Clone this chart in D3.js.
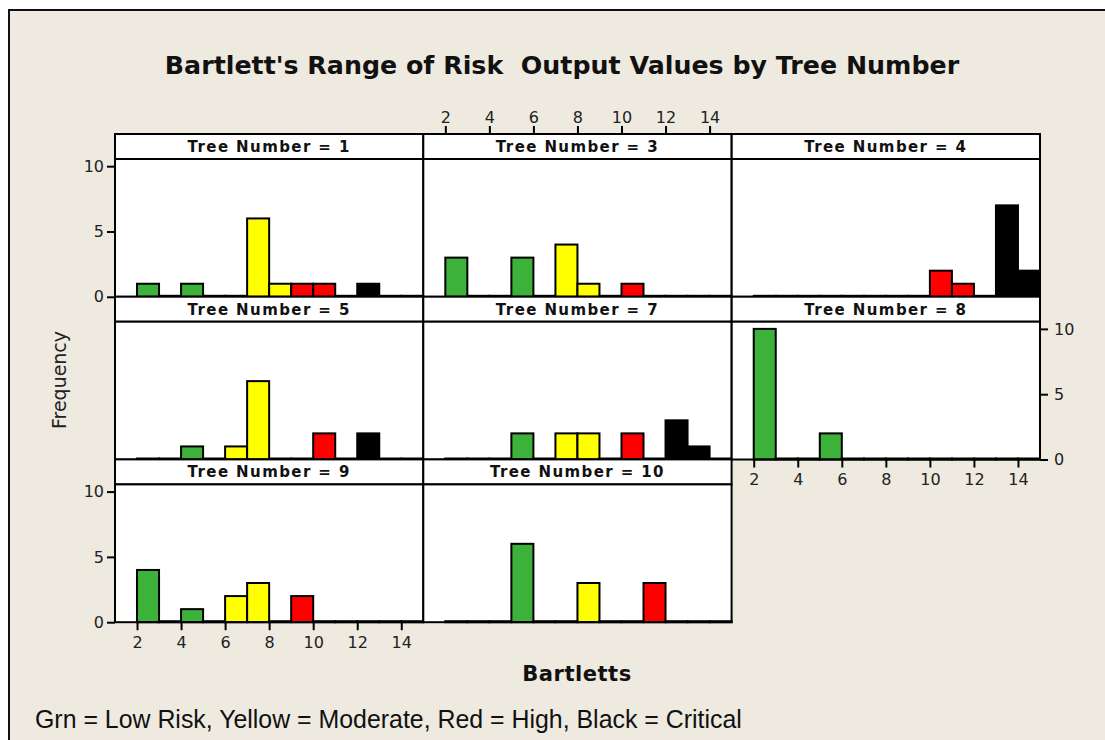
<!DOCTYPE html>
<html>
<head>
<meta charset="utf-8">
<script src="https://cdn.jsdelivr.net/npm/d3@7"></script>
<style>
  html, body { margin: 0; padding: 0; background: #fff; }
  svg { display: block; }
</style>
</head>
<body>
<svg id="chart" width="1105" height="740"></svg>
<script>
// ---------- DATA ----------
const treeNumbers = [1, 3, 4, 5, 7, 8, 9, 10];
const binStarts   = [2, 3, 4, 5, 6, 7, 8, 9, 10, 11, 12, 13, 14];
const tree1Counts  = [1, 0, 1, 0, 0, 6, 1, 1, 1, 0, 1, 0, 0];
const tree3Counts  = [3, 0, 0, 3, 0, 4, 1, 0, 1, 0, 0, 0, 0];
const tree4Counts  = [0, 0, 0, 0, 0, 0, 0, 0, 2, 1, 0, 7, 2];
const tree5Counts  = [0, 0, 1, 0, 1, 6, 0, 0, 2, 0, 2, 0, 0];
const tree7Counts  = [0, 0, 0, 2, 0, 2, 2, 0, 2, 0, 3, 1, 0];
const tree8Counts  = [10, 0, 0, 2, 0, 0, 0, 0, 0, 0, 0, 0, 0];
const tree9Counts  = [4, 0, 1, 0, 2, 3, 0, 2, 0, 0, 0, 0, 0];
const tree10Counts = [0, 0, 0, 6, 0, 0, 3, 0, 0, 3, 0, 0, 0];
const countsByTree = [tree1Counts, tree3Counts, tree4Counts, tree5Counts,
                      tree7Counts, tree8Counts, tree9Counts, tree10Counts];
const xTickValues = [2, 4, 6, 8, 10, 12, 14];
const yTickValues = [0, 5, 10];
const riskLevels = ["Low", "Moderate", "High", "Critical"];
const riskStarts = [2, 6, 9, 12];   // bin start where each risk level begins
const riskColors = ["#3DB23A", "#FFFF00", "#FF0000", "#000000"];

const titleText = "Bartlett's Range of Risk\u00a0\u00a0Output Values by Tree Number";
const xLabel = "Bartletts";
const yLabel = "Frequency";
const footnote = "Grn = Low Risk, Yellow = Moderate, Red = High, Black = Critical";

// ---------- LAYOUT ----------
const W = 1105, H = 740;
const svg = d3.select("#chart");
const bg = "#EEEAE0";

svg.append("rect").attr("x", 0).attr("y", 0).attr("width", W).attr("height", H).attr("fill", "#fff");
svg.append("rect").attr("x", 9).attr("y", 10).attr("width", W + 10).attr("height", H + 10)
  .attr("fill", bg).attr("stroke", "#111").attr("stroke-width", 2);

const colLeft = [115, 423.3, 731.7];
const panelW = 308.3;
const rowTop = [134, 296.7, 459.4];
const headerH = 25;
const plotH = 137.8;

const x = d3.scaleLinear().domain([1, 15]).range([0, panelW]);
const y = d3.scaleLinear().domain([0, 10.55]).range([plotH, 0]);

const riskScale = d3.scaleThreshold().domain(riskStarts.slice(1)).range(riskColors);

const fontMain = "Tahoma, 'DejaVu Sans', Verdana, sans-serif";

function fitText(sel, target) {
  const len = sel.node().getComputedTextLength();
  const fs = parseFloat(sel.attr("font-size"));
  sel.attr("font-size", fs * target / len);
}

treeNumbers.forEach((tree, i) => {
  const r = Math.floor(i / 3), c = i % 3;
  const gx = colLeft[c], gy = rowTop[r];
  const g = svg.append("g").attr("transform", `translate(${gx},${gy})`);

  // header strip
  g.append("rect").attr("x", 0).attr("y", 0).attr("width", panelW).attr("height", headerH)
    .attr("fill", "#fff").attr("stroke", "#000").attr("stroke-width", 2);
  g.append("text")
    .attr("x", panelW / 2).attr("y", headerH / 2 + 5.5)
    .attr("text-anchor", "middle")
    .attr("font-family", fontMain).attr("font-weight", "bold")
    .attr("font-size", 15).attr("letter-spacing", 1.4)
    .attr("fill", "#111")
    .text(`Tree Number = ${tree}`);

  // plot area
  const p = g.append("g").attr("transform", `translate(0,${headerH})`);
  p.append("rect").attr("x", 0).attr("y", 0).attr("width", panelW).attr("height", plotH)
    .attr("fill", "#fff");

  const counts = countsByTree[i];
  p.selectAll("rect.bar").data(binStarts.map((b, k) => ({ b, v: counts[k] })))
    .join("rect").attr("class", "bar")
    .attr("x", d => x(d.b))
    .attr("width", d => x(d.b + 1) - x(d.b))
    .attr("y", d => y(d.v) - (d.v === 0 ? 1 : 0))
    .attr("height", d => y(0) - y(d.v) + (d.v === 0 ? 1 : 0))
    .attr("fill", d => riskScale(d.b))
    .attr("stroke", "#000").attr("stroke-width", 2);

  p.append("rect").attr("x", 0).attr("y", 0).attr("width", panelW).attr("height", plotH)
    .attr("fill", "none").attr("stroke", "#000").attr("stroke-width", 2);

  const styleAxis = (a) => {
    a.select(".domain").remove();
    a.selectAll(".tick line").attr("stroke", "#000").attr("stroke-width", 2);
    a.selectAll(".tick text").attr("font-family", fontMain).attr("font-size", 16).attr("fill", "#222");
  };

  // y axes: rows 0 and 2 on the left of column 0; row 1 on the right of column 2
  if (c === 0 && (r === 0 || r === 2)) {
    p.append("g").call(d3.axisLeft(y).tickValues(yTickValues).tickSize(8).tickPadding(3)).call(styleAxis);
  }
  if (c === 2 && r === 1) {
    p.append("g").attr("transform", `translate(${panelW},0)`)
      .call(d3.axisRight(y).tickValues(yTickValues).tickSize(8).tickPadding(6)).call(styleAxis);
  }
  // x axes
  if (r === 0 && c === 1) {
    g.append("g").call(d3.axisTop(x).tickValues(xTickValues).tickSize(8).tickPadding(3)).call(styleAxis);
  }
  if ((r === 2 && c === 0) || (r === 1 && c === 2)) {
    p.append("g").attr("transform", `translate(0,${plotH})`)
      .call(d3.axisBottom(x).tickValues(xTickValues).tickSize(8).tickPadding(6)).call(styleAxis);
  }
});

// title
const t = svg.append("text").attr("x", 562).attr("y", 74).attr("text-anchor", "middle")
  .attr("font-family", fontMain).attr("font-weight", "bold").attr("font-size", 25)
  .attr("fill", "#111").text(titleText);
fitText(t, 795);

// x label
const xl = svg.append("text").attr("x", 577).attr("y", 681).attr("text-anchor", "middle")
  .attr("font-family", fontMain).attr("font-weight", "bold").attr("font-size", 19)
  .attr("fill", "#111").attr("letter-spacing", 0.5).text(xLabel);
fitText(xl, 110);

// y label
const yl = svg.append("text").attr("transform", "translate(66,380) rotate(-90)")
  .attr("text-anchor", "middle").attr("font-family", fontMain).attr("font-size", 17)
  .attr("fill", "#222").text(yLabel);
fitText(yl, 98);

// footnote (narrow face: compress horizontally to the reference width)
const fnG = svg.append("g");
const fn = fnG.append("text").attr("x", 0).attr("y", 0)
  .attr("font-family", "'Liberation Sans Narrow', 'Arial Narrow', 'Liberation Sans', Arial, sans-serif")
  .attr("font-size", 25).attr("fill", "#111").text(footnote);
const fnLen = fn.node().getComputedTextLength();
fnG.attr("transform", `translate(35,728) scale(${707 / fnLen},1)`);
</script>
</body>
</html>
